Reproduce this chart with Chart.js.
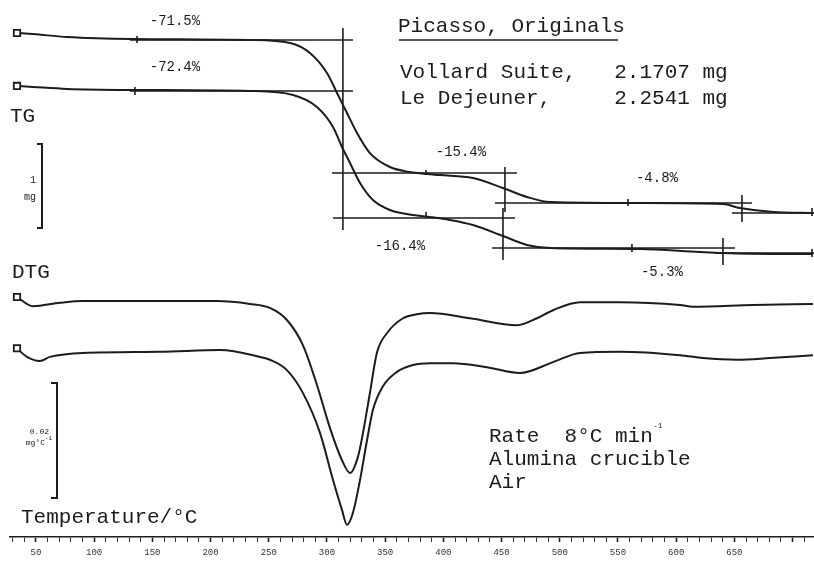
<!DOCTYPE html>
<html>
<head>
<meta charset="utf-8">
<script src="https://cdn.jsdelivr.net/npm/chart.js@4.4.1/dist/chart.umd.min.js"></script>
<style>
  html, body { margin: 0; padding: 0; background: #fff; }
  #wrap { width: 814px; height: 563px; position: relative; }
</style>
</head>
<body>
<div id="wrap"><canvas id="c"></canvas></div>
<script>
// temperatures in °C, TG in mg, DTG in µg/°C
const tgVollardT = [33.7, 47.4, 76.6, 133.3, 233.8, 268.2, 285.4, 300.0, 309.5, 317.2, 325.8, 336.9, 354.1, 371.3, 385.9, 397.1, 425.4, 451.2, 471.8, 491.6, 568.9, 640.2, 654.8, 683.2, 717.5];
const tgVollard  = [2.254, 2.242, 2.206, 2.183, 2.171, 2.135, 2.016, 1.778, 1.516, 1.302, 1.064, 0.825, 0.659, 0.599, 0.575, 0.563, 0.528, 0.409, 0.302, 0.242, 0.230, 0.218, 0.171, 0.123, 0.111];

const tgDejeunerT = [33.7, 47.4, 76.6, 133.3, 233.8, 270.8, 291.4, 305.2, 312.9, 319.8, 328.4, 339.5, 354.1, 373.9, 388.5, 405.7, 425.4, 451.2, 471.8, 491.6, 568.9, 620.4, 640.2, 683.2, 717.5];
const tgDejeuner  = [2.314, 2.302, 2.278, 2.266, 2.254, 2.206, 2.064, 1.826, 1.587, 1.397, 1.159, 0.956, 0.837, 0.778, 0.754, 0.719, 0.659, 0.528, 0.421, 0.385, 0.373, 0.337, 0.325, 0.314, 0.314];

const dtgVollardT = [33.7, 47.4, 70.6, 90.4, 156.5, 205.5, 233.8, 251.0, 265.6, 279.4, 291.4, 302.6, 312.9, 319.8, 326.6, 330.9, 336.9, 342.9, 351.5, 365.3, 377.3, 388.5, 422.9, 463.2, 480.4, 494.2, 517.4, 551.7, 603.3, 614.4, 666.0, 717.5];
const dtgVollard  = [0.7, -0.9, -0.3, 0, 0, 0, -0.5, -1.2, -3.3, -7.7, -14.6, -22.1, -27.7, -29.9, -27.1, -23.0, -16.0, -9.0, -5.6, -3.0, -2.3, -2.1, -3.0, -4.2, -3.0, -1.6, -0.2, -0.2, -0.7, -1.0, -0.7, -0.5];

const dtgDejeunerT = [33.7, 42.3, 53.4, 62.0, 90.4, 156.5, 208.1, 242.4, 251.0, 265.6, 279.4, 294.0, 305.2, 312.9, 317.2, 322.3, 328.4, 334.4, 339.5, 348.1, 360.1, 373.9, 388.5, 408.2, 437.5, 465.8, 494.2, 517.4, 551.7, 603.3, 623.0, 652.2, 680.6, 717.5];
const dtgDejeuner  = [0.3, -1.2, -1.9, -1.2, -0.5, -0.3, 0, -1.2, -1.7, -3.5, -7.5, -14.4, -22.6, -27.8, -30.4, -28.3, -22.6, -15.7, -10.4, -6.3, -3.8, -2.6, -2.3, -2.3, -3.0, -4.0, -2.1, -0.5, -0.3, -0.9, -1.4, -1.7, -1.4, -0.9];

// step construction lines on the TG traces: [[T1, mg1], [T2, mg2]]
const tgVollardSteps = [
  [[130.8, 2.171], [322.3, 2.171]], [[136.8, 2.218], [136.8, 2.135]],
  [[313.7, 2.314], [313.7, -0.091]],
  [[304.3, 0.587], [463.2, 0.587]], [[385.1, 0.623], [385.1, 0.563]],
  [[452.9, 0.659], [452.9, 0.123]],
  [[444.3, 0.230], [665.1, 0.230]], [[558.6, 0.278], [558.6, 0.195]],
  [[656.5, 0.325], [656.5, 0.004]],
  [[647.9, 0.111], [718.4, 0.111]], [[716.7, 0.171], [716.7, 0.076]]
];
const tgDejeunerSteps = [
  [[130.8, 2.254], [322.3, 2.254]], [[135.0, 2.302], [135.0, 2.206]],
  [[305.2, 0.742], [461.5, 0.742]], [[385.1, 0.814], [385.1, 0.766]],
  [[451.2, 0.861], [451.2, 0.242]],
  [[441.8, 0.385], [650.5, 0.385]], [[562.0, 0.433], [562.0, 0.337]],
  [[640.2, 0.504], [640.2, 0.183]],
  [[633.3, 0.325], [718.4, 0.325]], [[716.7, 0.373], [716.7, 0.278]]
];

// mass-loss labels
const stepLabels = ['-71.5%', '-72.4%', '-15.4%', '-16.4%', '-4.8%', '-5.3%'];
const stepLabelT = [169.4, 169.4, 415.1, 362.7, 583.5, 587.8];
const stepLabelMg = [2.397, 2.540, 0.837, 0.409, 0.528, 0.099];
const stepLabelAxis = ['tgA', 'tgB', 'tgA', 'tgB', 'tgA', 'tgB'];

const tempLabels = [50, 100, 150, 200, 250, 300, 350, 400, 450, 500, 550, 600, 650];

// vertical layout of the stacked traces
const tgSpan = 6.393, dtgSpan = 93.39;
const tgTopA = 2.647, tgTopB = 3.337, dtgTopA = 52.35, dtgTopB = 60.87;

const ink = '#1c1c1c';
const mono = '"Liberation Mono", "DejaVu Sans Mono", monospace';

function pts(T, v) { return T.map((t, i) => ({ x: t, y: v[i] })); }
function segs(list) {
  const out = [];
  list.forEach(s => {
    out.push({ x: s[0][0], y: s[0][1] }, { x: s[1][0], y: s[1][1] }, { x: s[1][0], y: null });
  });
  return out;
}
function trace(label, data, axis) {
  return {
    label, data, yAxisID: axis, borderColor: ink, borderWidth: 2, fill: false,
    cubicInterpolationMode: 'monotone', pointStyle: 'rect',
    pointRadius: c => c.dataIndex === 0 ? 4.5 : 0, pointBorderWidth: 1.8,
    pointBackgroundColor: '#fff', pointBorderColor: ink
  };
}
function lines(label, data, axis) {
  return { label, data, yAxisID: axis, borderColor: ink, borderWidth: 1.6, pointRadius: 0, tension: 0, spanGaps: false };
}

const textPlugin = {
  id: 'texts',
  afterDatasetsDraw(chart) {
    const c = chart.ctx, s = chart.scales;
    c.save();
    c.fillStyle = ink;
    c.strokeStyle = ink;

    // step percentages
    c.font = '14px ' + mono;
    c.textAlign = 'center';
    c.textBaseline = 'middle';
    stepLabels.forEach((t, i) => {
      c.fillText(t, s.x.getPixelForValue(stepLabelT[i]), s[stepLabelAxis[i]].getPixelForValue(stepLabelMg[i]));
    });

    c.textAlign = 'left';
    c.textBaseline = 'alphabetic';
    c.font = '21px ' + mono;
    c.fillText('Picasso, Originals', 398, 32);
    c.lineWidth = 1.5;
    c.beginPath(); c.moveTo(399, 40); c.lineTo(618, 40); c.stroke();
    c.fillText('Vollard Suite,   2.1707 mg', 400, 78);
    c.fillText('Le Dejeuner,     2.2541 mg', 400, 104);

    c.fillText('TG', 10, 122);
    c.fillText('DTG', 12, 278);
    c.fillText('Temperature/\u00B0C', 21, 523);

    c.fillText('Rate  8\u00B0C min', 489, 442);
    c.fillText('Alumina crucible', 489, 465);
    c.fillText('Air', 489, 488);
    c.font = '8px ' + mono;
    c.fillText('-1', 653, 428);

    // scale bars
    const mgLen = s.tgA.getPixelForValue(0) - s.tgA.getPixelForValue(1);
    const dLen = s.dtgA.getPixelForValue(-20) - s.dtgA.getPixelForValue(0);
    c.lineWidth = 2;
    c.beginPath();
    c.moveTo(37, 144); c.lineTo(42, 144); c.lineTo(42, 144 + mgLen); c.lineTo(37, 144 + mgLen);
    c.moveTo(51, 383); c.lineTo(57, 383); c.lineTo(57, 383 + dLen); c.lineTo(51, 383 + dLen);
    c.stroke();
    c.textAlign = 'right';
    c.font = '10px ' + mono;
    c.fillText('1', 36, 183);
    c.fillText('mg', 36, 200);
    c.font = '8px ' + mono;
    c.fillText('0.02', 49, 434);
    c.fillText('mg\u00B0C', 45, 445);
    c.textAlign = 'left';
    c.font = '6px ' + mono;
    c.fillText('-1', 45, 440);
    c.restore();
  }
};

new Chart(document.getElementById('c'), {
  type: 'line',
  data: {
    datasets: [
      trace('TG Vollard Suite', pts(tgVollardT, tgVollard), 'tgA'),
      trace('TG Le Dejeuner', pts(tgDejeunerT, tgDejeuner), 'tgB'),
      lines('TG Vollard steps', segs(tgVollardSteps), 'tgA'),
      lines('TG Le Dejeuner steps', segs(tgDejeunerSteps), 'tgB'),
      trace('DTG Vollard Suite', pts(dtgVollardT, dtgVollard), 'dtgA'),
      trace('DTG Le Dejeuner', pts(dtgDejeunerT, dtgDejeuner), 'dtgB')
    ]
  },
  options: {
    responsive: true,
    maintainAspectRatio: false,
    animation: false,
    events: [],
    layout: { autoPadding: false, padding: { left: 10, right: 0, top: 0, bottom: 0 } },
    plugins: { legend: { display: false }, tooltip: { enabled: false } },
    scales: {
      x: {
        type: 'linear', position: 'bottom', min: 27.7, max: 718.4,
        afterBuildTicks: sc => {
          const t = [];
          for (let v = 30; v <= 710; v += 10) t.push({ value: v });
          sc.ticks = t;
        },
        afterFit: sc => { sc.height = 26; },
        border: { color: ink, width: 1.6 },
        grid: {
          drawOnChartArea: false, tickLength: 5, tickColor: ink,
          tickWidth: c => (c.tick && c.tick.value % 50 === 0) ? 1.6 : 0.9
        },
        ticks: {
          autoSkip: false, maxRotation: 0, padding: 5, color: '#333',
          font: { family: mono, size: 9 },
          callback: v => tempLabels.includes(v) ? String(v) : ''
        }
      },
      tgA: { display: false, min: tgTopA - tgSpan, max: tgTopA },
      tgB: { display: false, min: tgTopB - tgSpan, max: tgTopB },
      dtgA: { display: false, min: dtgTopA - dtgSpan, max: dtgTopA },
      dtgB: { display: false, min: dtgTopB - dtgSpan, max: dtgTopB }
    }
  },
  plugins: [textPlugin]
});
</script>
</body>
</html>
